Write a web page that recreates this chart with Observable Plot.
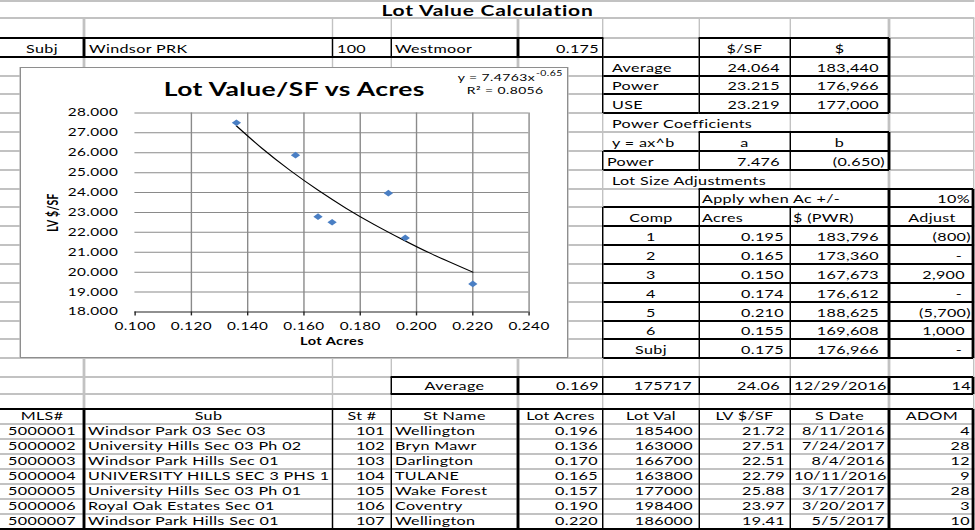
<!DOCTYPE html>
<html>
<head>
<meta charset="utf-8">
<script src="https://cdn.jsdelivr.net/npm/d3@7"></script>
<script src="https://cdn.jsdelivr.net/npm/@observablehq/plot@0.6"></script>
<style>
html, body { margin: 0; padding: 0; background: #fff; overflow: hidden; }
#sheet { position: absolute; left: 0; top: 0; height: 530px; transform-origin: 0 0;
  font-family: Lato, "Open Sans", sans-serif; font-size: 11.5px; letter-spacing: 0.25px; color: #000; }
#sheet .ln { position: absolute; }
#sheet .t { position: absolute; white-space: nowrap; line-height: 14px; height: 14px; }
#chartbox { position: absolute; background: #fff; box-sizing: border-box; border: 1px solid #8e8e8e; letter-spacing: 0; }
#chartbox svg { position: absolute; left: 0; top: 0; overflow: visible; }
</style>
</head>
<body>
<div id="sheet"></div>
<script>
// ---------------- data ----------------
const sheetTitle = "Lot Value Calculation";
const subjRow = ["Subj", "Windsor PRK", "100", "Westmoor", "0.175"];
const summaryHeaders = ["$/SF", "$"];
const summaryLabels = ["Average", "Power", "USE"];
const summaryPerSF = ["24.064", "23.215", "23.219"];
const summaryDollars = ["183,440", "176,966", "177,000"];
const coefHeaders = ["y = ax^b", "a", "b"];
const powerA = "7.476";
const powerB = "(0.650)";
const applyThreshold = "10%";
const adjHeaders = ["Comp", "Acres", "$ (PWR)", "Adjust"];
const compIds = ["1", "2", "3", "4", "5", "6", "Subj"];
const compAcres = ["0.195", "0.165", "0.150", "0.174", "0.210", "0.155", "0.175"];
const compPwr = ["183,796", "173,360", "167,673", "176,612", "188,625", "169,608", "176,966"];
const compAdjust = ["(800)", "-", "2,900", "-", "(5,700)", "1,000", "-"];
const averageRow = ["Average", "0.169", "175717", "24.06", "12/29/2016", "14"];
const tableHeaders = ["MLS#", "Sub", "St #", "St Name", "Lot Acres", "Lot Val", "LV $/SF", "S Date", "ADOM"];
const mlsNums = ["5000001", "5000002", "5000003", "5000004", "5000005", "5000006", "5000007"];
const subdivisions = ["Windsor Park 03 Sec 03", "University Hills Sec 03 Ph 02", "Windsor Park Hills Sec 01",
  "UNIVERSITY HILLS SEC 3 PHS 1", "University Hills Sec 03 Ph 01", "Royal Oak Estates Sec 01", "Windsor Park Hills Sec 01"];
const streetNums = ["101", "102", "103", "104", "105", "106", "107"];
const streetNames = ["Wellington", "Bryn Mawr", "Darlington", "TULANE", "Wake Forest", "Coventry", "Wellington"];
const lotAcres = [0.196, 0.136, 0.170, 0.165, 0.157, 0.190, 0.220];
const lotVal = [185400, 163000, 166700, 163800, 177000, 198400, 186000];
const lvPerSF = [21.72, 27.51, 22.51, 22.79, 25.88, 23.97, 19.41];
const saleDates = ["8/11/2016", "7/24/2017", "8/4/2016", "10/11/2016", "3/17/2017", "3/20/2017", "5/5/2017"];
const adom = [4, 28, 12, 9, 28, 3, 10];

const chartTitle = "Lot Value/SF vs Acres";
const xTicks = [0.100, 0.120, 0.140, 0.160, 0.180, 0.200, 0.220, 0.240];
const yTicks = [18, 19, 20, 21, 22, 23, 24, 25, 26, 27, 28];
const trendAcres = [0.136, 0.145, 0.155, 0.165, 0.175, 0.185, 0.195, 0.205, 0.220];
const trendLV = [27.35, 26.23, 25.12, 24.12, 23.21, 22.39, 21.64, 20.94, 20.00];
const eqMain = "y = 7.4763x";
const eqExp = "-0.65";
const eqR2 = "R² = 0.8056";

// ---------------- layout ----------------
const K = 1.4; // horizontal stretch of the screenshot
const colX = [0, 84, 333, 391, 518, 603, 699, 790, 889, 975];
const R = [0, 18, 38, 57, 76, 94, 113, 132, 151, 170, 189, 207, 226, 245, 264, 283, 302, 321, 339, 358, 377, 394, 409, 424, 439, 454, 469, 484, 499, 514, 529];

const sheet = document.getElementById("sheet");
sheet.style.width = (975 / K) + "px";
sheet.style.transform = `scaleX(${K})`;

function add(cls, l, t, w, h) {
  const d = document.createElement("div");
  d.className = cls;
  d.style.left = (l / K) + "px";
  d.style.top = t + "px";
  d.style.width = (w / K) + "px";
  d.style.height = h + "px";
  sheet.appendChild(d);
  return d;
}
function hline(x1, x2, y, color, th) { const d = add("ln", x1, y - th / 2, x2 - x1, th); d.style.background = color; }
function vline(x, y1, y2, color, th) { const d = add("ln", x - th / 2, y1, th, y2 - y1); d.style.background = color; }
function cell(c0, c1, row, txt, align, pl = 4, pr = 4) {
  const left = colX[c0], right = colX[c1 + 1];
  const bottom = R[row + 1];
  const d = add("t", left + pl, bottom - 15, right - left - pl - pr, 14);
  d.style.textAlign = align;
  d.textContent = txt;
  return d;
}

// gray gridlines
const GR = "#c2c2c2", GT = 1.6;
R.forEach(y => hline(0, 975, Math.max(y, 0.8), GR, GT));
for (let r = 1; r < R.length - 1; r++) {
  colX.slice(1).forEach(x => {
    if ((r === 6 || r === 9) && x === 699) return;
    if (r === 10 && x === 790) return;
    vline(Math.min(x, 974), R[r], R[r + 1], GR, GT);
  });
}

// black borders
const BK = "#000", BT = 1.6;
hline(0, 603, 38, BK, BT); hline(0, 603, 57, BK, BT);
[84, 333, 391, 518, 603].forEach(x => vline(x, 38, 57, BK, BT));
[38, 57, 76, 94, 113].forEach(y => hline(699, 889, y, BK, BT));
[57, 76, 94, 113].forEach(y => hline(603, 699, y, BK, BT));
vline(603, 57, 113, BK, BT);
[699, 790, 889].forEach(x => vline(x, 38, 113, BK, BT));
[132, 151, 170].forEach(y => hline(699, 889, y, BK, BT));
[151, 170].forEach(y => hline(603, 699, y, BK, BT));
vline(603, 151, 170, BK, BT);
[699, 790, 889].forEach(x => vline(x, 132, 170, BK, BT));
hline(699, 973, 189, BK, BT);
R.slice(11, 20).forEach(y => hline(603, 973, y, BK, BT));
vline(603, 207, 358, BK, BT); vline(699, 189, 358, BK, BT); vline(790, 207, 358, BK, BT);
vline(889, 189, 358, BK, BT); vline(973, 189, 358, BK, BT);
hline(391, 973, 377, BK, BT); hline(391, 973, 394, BK, BT);
[391, 518, 603, 699, 790, 889, 973].forEach(x => vline(x, 377, 394, BK, BT));
hline(0, 973, 409, BK, BT); hline(0, 973, 529, BK, BT);
[84, 333, 391, 518, 603, 699, 790, 889, 973].forEach(x => vline(x, 409, 530, BK, BT));

// texts
const tt = add("t", 0, 1.5, 975, 17);
tt.style.textAlign = "center"; tt.style.fontWeight = "bold"; tt.style.fontSize = "15px"; tt.style.lineHeight = "17px";
tt.style.height = "17px"; tt.style.letterSpacing = "0.55px"; tt.textContent = sheetTitle;

cell(0, 0, 2, subjRow[0], "center");
cell(1, 1, 2, subjRow[1], "left", 5);
cell(2, 2, 2, subjRow[2], "left", 4);
cell(3, 3, 2, subjRow[3], "left", 4);
cell(4, 4, 2, subjRow[4], "right", 4, 4);
cell(6, 6, 2, summaryHeaders[0], "center");
cell(7, 7, 2, summaryHeaders[1], "center");
summaryLabels.forEach((s, i) => {
  cell(5, 5, 3 + i, s, "left", 9);
  cell(6, 6, 3 + i, summaryPerSF[i], "right", 4, 10);
  cell(7, 7, 3 + i, summaryDollars[i], "right", 4, 10);
});
cell(5, 5, 6, "Power Coefficients", "left", 9);
cell(5, 5, 7, coefHeaders[0], "left", 9);
cell(6, 6, 7, coefHeaders[1], "center");
cell(7, 7, 7, coefHeaders[2], "center");
cell(5, 5, 8, "Power", "left", 4);
cell(6, 6, 8, powerA, "right", 4, 10);
cell(7, 7, 8, powerB, "right", 4, 4);
cell(5, 5, 9, "Lot Size Adjustments", "left", 9);
cell(6, 7, 10, "Apply when Ac +/-", "left", 3);
cell(8, 8, 10, applyThreshold, "right", 4, 5);
cell(5, 5, 11, adjHeaders[0], "center");
cell(6, 6, 11, adjHeaders[1], "left", 3);
cell(7, 7, 11, adjHeaders[2], "left", 3);
cell(8, 8, 11, adjHeaders[3], "center");
compIds.forEach((c, i) => {
  const r = 12 + i;
  cell(5, 5, r, c, "center");
  cell(6, 6, r, compAcres[i], "right", 4, 6);
  cell(7, 7, r, compPwr[i], "right", 4, 10);
  const a = compAdjust[i];
  cell(8, 8, r, a, "right", 4, a.startsWith("(") ? 4 : (a === "-" ? 13 : 10));
});
cell(3, 3, 20, averageRow[0], "center");
cell(4, 4, 20, averageRow[1], "right", 4, 4);
cell(5, 5, 20, averageRow[2], "right", 4, 7);
cell(6, 6, 20, averageRow[3], "right", 4, 10);
cell(7, 7, 20, averageRow[4], "right", 4, 7);
cell(8, 8, 20, averageRow[5], "right", 4, 4);
tableHeaders.forEach((h, c) => cell(c, c, 22, h, "center"));
mlsNums.forEach((m, i) => {
  const r = 23 + i;
  cell(0, 0, r, m, "center", 2, 2);
  cell(1, 1, r, subdivisions[i], "left", 4);
  cell(2, 2, r, streetNums[i], "right", 4, 6);
  cell(3, 3, r, streetNames[i], "left", 4);
  cell(4, 4, r, lotAcres[i].toFixed(3), "right", 4, 5);
  cell(5, 5, r, String(lotVal[i]), "right", 4, 6);
  cell(6, 6, r, lvPerSF[i].toFixed(2), "right", 4, 5);
  cell(7, 7, r, saleDates[i], "right", 4, 4);
  cell(8, 8, r, String(adom[i]), "right", 4, 5);
});

// ---------------- chart ----------------
const box = { l: 19, t: 67, r: 568, b: 358 };
const plotL = 133, plotR = 529, plotT = 111.7, plotB = 311.7;
const cb = document.createElement("div");
cb.id = "chartbox";
cb.style.left = (box.l / K) + "px";
cb.style.top = box.t + "px";
cb.style.width = ((box.r - box.l) / K) + "px";
cb.style.height = (box.b - box.t) + "px";
sheet.appendChild(cb);

const points = lotAcres.map((a, i) => ({ acres: a, lv: lvPerSF[i] }));
const trend = trendAcres.map((a, i) => ({ acres: a, lv: trendLV[i] }));

const chart = Plot.plot({
  width: (box.r - box.l) / K,
  height: box.b - box.t,
  marginLeft: (plotL - box.l) / K,
  marginRight: (box.r - plotR) / K,
  marginTop: plotT - box.t,
  marginBottom: box.b - plotB,
  x: { domain: [0.1, 0.24] },
  y: { domain: [18, 28] },
  style: { fontFamily: "Lato, sans-serif", fontSize: "11px", letterSpacing: "0.3px", color: "#000", background: "transparent", overflow: "visible" },
  marks: [
    Plot.gridY(yTicks.filter(d => d > 18), { stroke: "#8a8a8a", strokeOpacity: 1 }),
    Plot.gridX(xTicks.filter(d => d > 0.1), { stroke: "#8a8a8a", strokeOpacity: 1 }),
    Plot.ruleY([18], { stroke: "#222" }),
    Plot.axisX(xTicks, { tickSize: 4, tickPadding: 6, tickFormat: d => d.toFixed(3), label: null, stroke: "#222" }),
    Plot.axisY(yTicks, { tickSize: 0, tickPadding: 17 / K, tickFormat: d => d.toFixed(3), label: null }),
    Plot.line(trend, { x: "acres", y: "lv", stroke: "#000", strokeWidth: 1, curve: "natural" }),
    Plot.dot(points, { x: "acres", y: "lv", symbol: "diamond2", r: 3, fill: "#4a7fc4", stroke: "none" }),
    Plot.text([chartTitle], { text: d => d, frameAnchor: "top-left", dx: (293 - plotL) / K, dy: 95 - plotT,
      textAnchor: "middle", lineAnchor: "bottom", fontWeight: "bold", fontSize: 19, letterSpacing: 1.4 }),
    Plot.text([eqMain], { text: d => d, frameAnchor: "top-left", dx: (535 - plotL) / K, dy: 80 - plotT,
      textAnchor: "end", lineAnchor: "bottom", fontSize: 10 }),
    Plot.text([eqExp], { text: d => d, frameAnchor: "top-left", dx: (536 - plotL) / K, dy: 74.5 - plotT,
      textAnchor: "start", lineAnchor: "bottom", fontSize: 7.5 }),
    Plot.text([eqR2], { text: d => d, frameAnchor: "top-left", dx: (505 - plotL) / K, dy: 92.5 - plotT,
      textAnchor: "middle", lineAnchor: "bottom", fontSize: 10 }),
    Plot.text(["LV $/SF"], { text: d => d, frameAnchor: "left", dx: (51 - plotL) / K, rotate: -90,
      textAnchor: "middle", lineAnchor: "middle", fontWeight: "bold", fontSize: 10.5 }),
    Plot.text(["Lot Acres"], { text: d => d, frameAnchor: "bottom", dy: 344.5 - plotB,
      textAnchor: "middle", lineAnchor: "bottom", fontWeight: "bold", fontSize: 10.5 })
  ]
});
cb.appendChild(chart);
</script>
</body>
</html>
